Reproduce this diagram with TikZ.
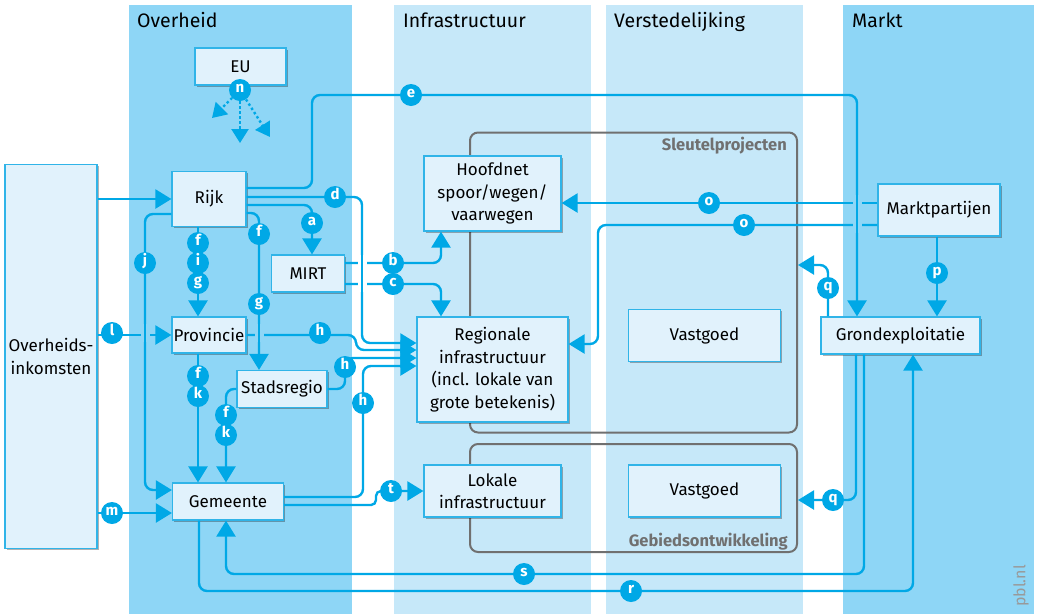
\documentclass[tikz,border=0pt]{standalone}
\usepackage{fontspec}
\setmainfont{Fira Sans}
\usetikzlibrary{arrows.meta,shadows}

\definecolor{pblblue}{RGB}{0,168,230}
\definecolor{colA}{RGB}{142,214,246}
\definecolor{colB}{RGB}{198,232,249}
\definecolor{boxfill}{RGB}{225,242,252}
\definecolor{boxline}{RGB}{48,180,232}
\definecolor{grp}{RGB}{112,112,112}

\begin{document}
\begin{tikzpicture}[x=1pt,y=-1pt,>={Triangle[length=16pt,width=19pt]},
  box/.style={draw=boxline,line width=1.2pt,fill=boxfill,align=center,inner sep=1pt,
    font=\fontsize{17}{22.5}\selectfont,
    drop shadow={shadow xshift=1.5pt,shadow yshift=-1.5pt,fill=black,opacity=.3}},
  conn/.style={draw=pblblue,line width=2.4pt,rounded corners=8pt},
  dotconn/.style={conn,dash pattern=on 2.4pt off 2.6pt,-{Triangle[length=14pt,width=17pt]}},
  lbl/.style={circle,fill=pblblue,text=white,inner sep=0pt,minimum size=22pt,
    text height=8pt,text depth=2.5pt,font=\fontsize{15}{15}\selectfont\bfseries},
  head/.style={anchor=base west,inner sep=0pt,font=\fontsize{19.5}{19.5}\selectfont},
  group/.style={draw=grp,line width=2pt,rounded corners=8pt},
  grouplbl/.style={anchor=base east,inner sep=0pt,text=grp,font=\fontsize{16.5}{16.5}\selectfont\bfseries},
  bridge/.style={draw=#1,line width=9pt,postaction={draw=pblblue,line width=2.4pt}}]
  \useasboundingbox (0,0) rectangle (1038,614);
  \fill[colA] (129,5) rectangle (352,614);
  \fill[colB] (394,5) rectangle (591,614);
  \fill[colB] (606,5) rectangle (803,614);
  \fill[colA] (843,5) rectangle (1034,614);
  \node[head] (hov) at (137,27) {Overheid};
  \node[head] (hinf) at (403,27) {Infrastructuur};
  \node[head] (hver) at (614,27) {Verstedelijking};
  \node[head] (hmar) at (852,27) {Markt};

  \node[group,minimum width=327pt,minimum height=300pt] (sleutel) at (633.5,282.5) {};
  \node[group,minimum width=327pt,minimum height=108pt] (gebied) at (633.5,498) {};
  \node[grouplbl] (lsleutel) at (787,150) {Sleutelprojecten};
  \node[grouplbl] (lgebied) at (788,546) {Gebiedsontwikkeling};

  \node[box,minimum width=91pt,minimum height=37pt] (eu) at (240.5,66.5) {EU};
  \node[box,minimum width=92pt,minimum height=384pt] (ink) at (51,356.5) {Overheids-\\inkomsten};
  \node[box,minimum width=74pt,minimum height=55pt] (rijk) at (209,199) {Rijk};
  \node[box,minimum width=73pt,minimum height=37pt] (mirt) at (308,273.5) {MIRT};
  \node[box,minimum width=74pt,minimum height=36pt] (prov) at (209,335) {Provincie};
  \node[box,minimum width=90pt,minimum height=37pt] (stad) at (282,389) {Stadsregio};
  \node[box,minimum width=111pt,minimum height=37pt] (gem) at (228,501.5) {Gemeente};
  \node[box,minimum width=137pt,minimum height=75pt] (hoofd) at (492.5,193.5) {Hoofdnet\\spoor/wegen/\\vaarwegen};
  \node[box,minimum width=151pt,minimum height=105pt] (regio) at (492.5,369.5) {Regionale\\infrastructuur\\(incl. lokale van\\grote betekenis)};
  \node[box,minimum width=137pt,minimum height=52pt] (lokaal) at (492.5,491) {Lokale\\infrastructuur};
  \node[box,minimum width=152pt,minimum height=52pt] (vg1) at (704.5,335.5) {Vastgoed};
  \node[box,minimum width=152pt,minimum height=52pt] (vg2) at (704.5,491) {Vastgoed};
  \node[box,minimum width=122pt,minimum height=52pt] (markt) at (939,210) {Marktpartijen};
  \node[box,minimum width=159pt,minimum height=37pt] (grond) at (900.5,335.5) {Grondexploitatie};

  \node[lbl] (ln) at (240,90) {n};
  \draw[dotconn] (ln) -- (212,118);
  \draw[dotconn] (ln) -- (240,143);
  \draw[dotconn] (ln) -- (270,137);

  \draw[conn,->] (ink.east |- rijk.west) -- (rijk.west);
  \draw[conn,->] (ink.east |- prov.west) -- (prov.west);
  \draw[conn,->] (ink.east |- 0,513) -- (gem.west |- 0,513);
  \draw[conn,->] (rijk.east |- 0,188) -| (312,95) -| (857,0 |- grond.north);
  \draw[conn,->] (rijk.east |- 0,197) -| (362,343) -- (regio.west |- 0,343);
  \draw[conn,->] (rijk.east |- 0,205) -| (312,0 |- mirt.north);
  \draw[conn,->] (rijk.east |- 0,213) -| (259,0 |- stad.north);
  \draw[conn,->] (rijk.west |- 0,214) -| (145,490) -- (gem.west |- 0,490);
  \draw[conn,->] (198,0 |- rijk.south) -- (198,0 |- prov.north);
  \draw[conn,->] (198,0 |- prov.south) -- (198,0 |- gem.north);
  \draw[conn,->] (stad.west) -| (226,0 |- gem.north);
  \draw[conn,->] (prov.east) -| (356,350) -- (regio.west |- 0,350);
  \draw[conn,->] (stad.east) -| (345,358) -- (regio.west |- 0,358);
  \draw[conn,->] (gem.east |- 0,497) -| (363,366) -- (regio.west |- 0,366);
  \draw[conn,rounded corners=5pt,->] (gem.east |- 0,505) -| (376,491) -- (lokaal.west);
  \draw[conn,->] (mirt.east |- 0,263) -| (441,0 |- hoofd.south);
  \draw[conn,->] (mirt.east |- 0,284) -| (441,0 |- regio.north);
  \draw[conn,->] (markt.west |- 0,203) -- (hoofd.east |- 0,203);
  \draw[conn,->] (markt.west |- 0,225) -| (598,344) -- (regio.east |- 0,344);
  \draw[conn,->] (937,0 |- markt.south) -- (937,0 |- grond.north);
  \draw[conn,->] (828,0 |- grond.north) |- (sleutel.east |- 0,265);
  \draw[conn,->] (856,0 |- grond.south) |- (gebied.east |- 0,500);
  \draw[conn,->] (864,0 |- grond.south) |- (226,574) -- (226,0 |- gem.south);
  \draw[conn,->] (199,0 |- gem.south) |- (913,591) -- (913,0 |- grond.south);

  \draw[bridge=colA] (145,324) -- (145,342);
  \draw[bridge=colA] (259,324) -- (259,342);
  \draw[bridge=white] (362,255) -- (362,292);
  \draw[bridge=colA] (857,195) -- (857,233);

  \node[lbl] (le) at (411,95) {e};
  \node[lbl] (ld) at (335,197) {d};
  \node[lbl] (la) at (312,223) {a};
  \node[lbl] (lf1) at (259,234) {f};
  \node[lbl] (lg1) at (259,304) {g};
  \node[lbl] (lj) at (145,263) {j};
  \node[lbl] (lf2) at (198,243) {f};
  \node[lbl] (li) at (198,263) {i};
  \node[lbl] (lg2) at (198,283) {g};
  \node[lbl] (ll) at (112,333) {l};
  \node[lbl] (lm) at (112,513) {m};
  \node[lbl] (lf3) at (198,376) {f};
  \node[lbl] (lk1) at (198,396) {k};
  \node[lbl] (lf4) at (226,415) {f};
  \node[lbl] (lk2) at (226,435) {k};
  \node[lbl] (lh1) at (320,333) {h};
  \node[lbl] (lh2) at (345,367) {h};
  \node[lbl] (lh3) at (363,403) {h};
  \node[lbl] (lt) at (391,491) {t};
  \node[lbl] (lb) at (393,263) {b};
  \node[lbl] (lc) at (393,284) {c};
  \node[lbl] (lo1) at (709,203) {o};
  \node[lbl] (lo2) at (744,225) {o};
  \node[lbl] (lp) at (937,273) {p};
  \node[lbl] (lq1) at (828,288) {q};
  \node[lbl] (lq2) at (833,500) {q};
  \node[lbl] (ls) at (524,574) {s};
  \node[lbl] (lr) at (631,591) {r};

  \node[rotate=90,text=black!40,font=\fontsize{16}{16}\selectfont] (pbl) at (1021,586) {pbl.nl};
\end{tikzpicture}
\end{document}
